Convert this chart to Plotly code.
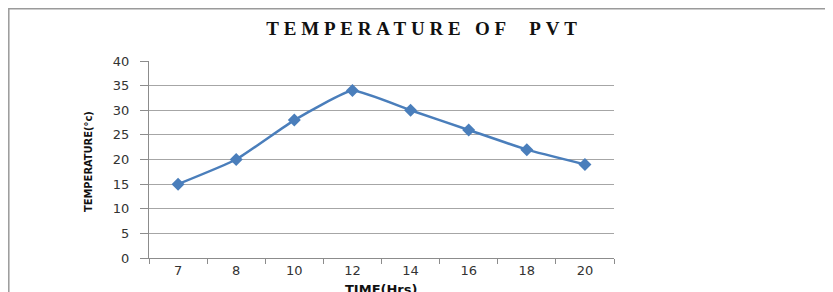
import plotly.graph_objects as go

hours = ["7", "8", "10", "12", "14", "16", "18", "20"]
temps = [15, 20, 28, 34, 30, 26, 22, 19]
y_ticks = [0, 5, 10, 15, 20, 25, 30, 35, 40]

OFF = 8  # page body margin of the browser
W, H = 833, 292
# plot area in page pixels
L, R, T, B = 149, 614, 61, 258
pw, ph = R - L, B - T

def px(x):
    return (x - L) / pw

def py(y):
    return (B - y) / ph

fig = go.Figure()
fig.add_trace(go.Scatter(
    x=hours, y=temps, mode="lines+markers",
    line=dict(color="#4a7ebb", width=2.5, shape="spline", smoothing=0.4),
    marker=dict(symbol="diamond", size=10, color="#4a7ebb"),
    showlegend=False,
))

fig.update_layout(
    width=W, height=H,
    margin=dict(l=L - OFF, r=W - (R - OFF), t=T - OFF, b=H - (B - OFF), pad=0),
    paper_bgcolor="white", plot_bgcolor="white",
    title=dict(text='<b><span style="letter-spacing:4.8px">TEMPERATURE OF  PVT</span></b>',
               x=(424 - OFF) / W, xanchor="center",
               y=1 - (28 - OFF) / H, yanchor="middle", yref="container",
               font=dict(family="Liberation Serif", size=19, color="#111")),
    font=dict(family="DejaVu Sans", size=13, color="#333"),
)
fig.update_xaxes(
    type="category", range=[-0.5, 7.5], tickson="boundaries",
    showgrid=False, showline=True, linecolor="#8c8c8c", linewidth=1,
    ticks="outside", ticklen=5, tickcolor="#8c8c8c",
    tickfont=dict(family="DejaVu Sans", size=13, color="#333"),
)
fig.update_yaxes(
    range=[0, 40], tickvals=y_ticks, showgrid=True, gridcolor="#a6a6a6", gridwidth=1,
    showline=True, linecolor="#8c8c8c", linewidth=1, zeroline=False,
    ticks="outside", ticklen=8, tickcolor="#8c8c8c", ticklabelstandoff=8,
    tickfont=dict(family="DejaVu Sans", size=13, color="#333"),
)

fig.add_annotation(text="<b>TEMPERATURE(°c)</b>", xref="paper", yref="paper",
                   x=px(88), y=py(162), textangle=-90, showarrow=False,
                   xanchor="center", yanchor="middle",
                   font=dict(family="DejaVu Sans Condensed", size=11, color="#111"))
fig.add_annotation(text="<b>TIME(Hrs)</b>", xref="paper", yref="paper",
                   x=px(381), y=py(289), showarrow=False,
                   xanchor="center", yanchor="middle",
                   font=dict(family="DejaVu Sans", size=13, color="#111"))

# outer chart frame (left and top edges visible in the reference)
fx0 = OFF + 0.8
fy0 = OFF + 0.8
fig.add_shape(type="rect", xref="paper", yref="paper",
              x0=px(fx0), x1=px(OFF + W + 20), y0=py(OFF + H + 20), y1=py(fy0),
              line=dict(color="#9a9a9a", width=1.5), layer="below")

fig.write_html("out.html")
